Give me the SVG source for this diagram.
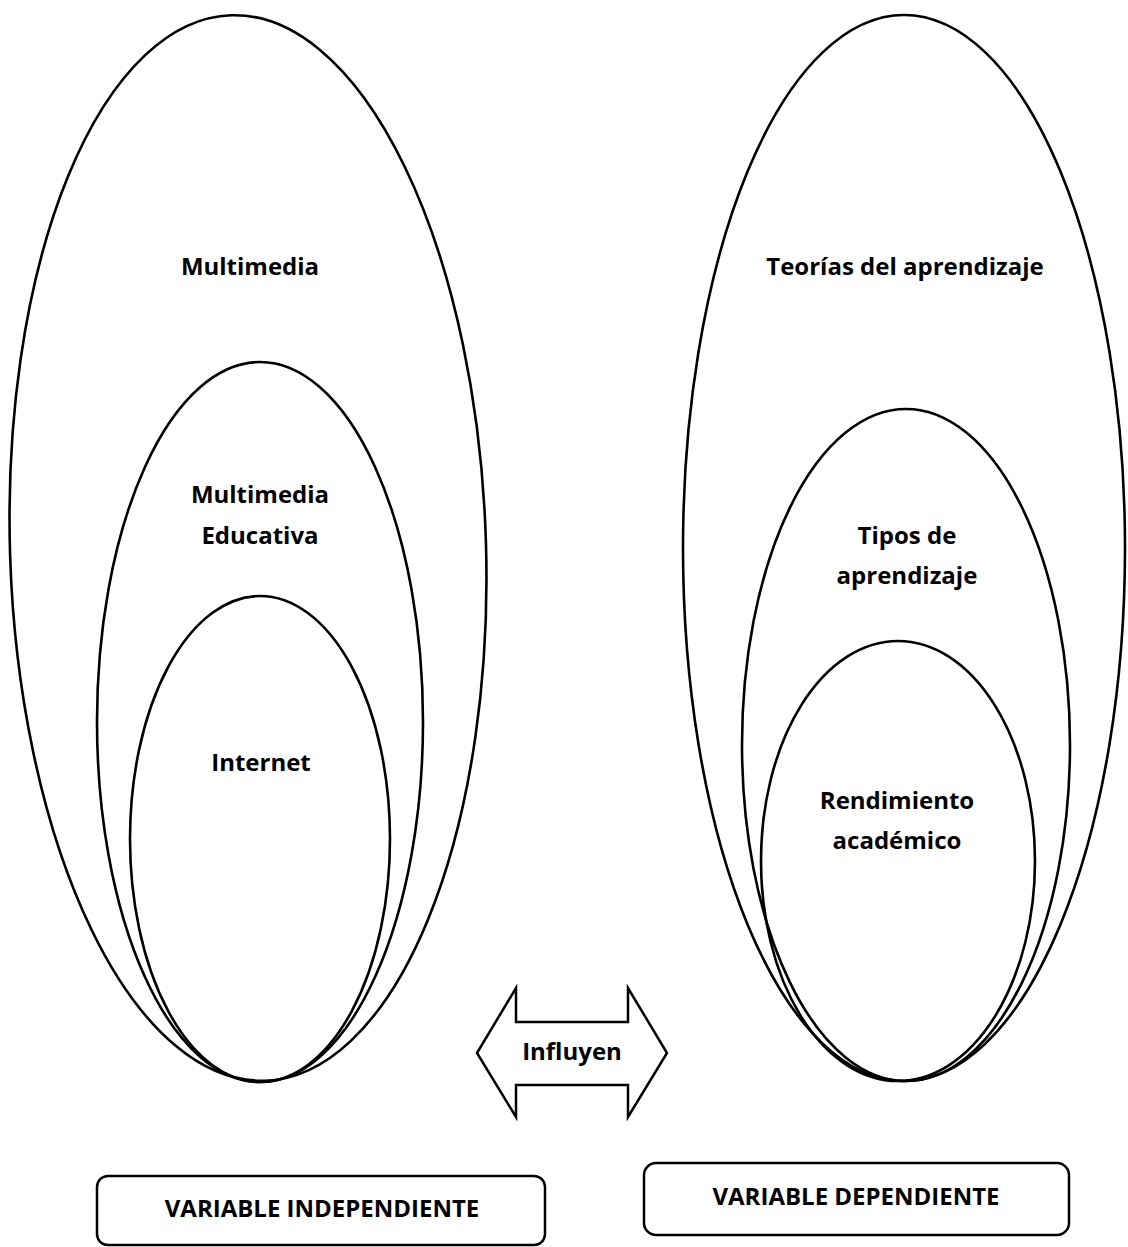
<svg xmlns="http://www.w3.org/2000/svg" width="1128" height="1247" viewBox="0 0 1128 1247">
<style>
.sh{fill:none;stroke:#000;stroke-width:2.6}
.bx{fill:#fff;stroke:#000;stroke-width:2.5}
.t{font-family:"Open Sans","Liberation Sans",sans-serif;font-weight:bold;font-size:24px;fill:#000;text-anchor:middle}
</style>
<rect width="1128" height="1247" fill="#fff"/>
<g id="independent-set">
<g id="multimedia"><ellipse class="sh" cx="248" cy="548" rx="238" ry="533" transform="rotate(-1.8 248 548)"/><text class="t" x="250" y="275">Multimedia</text></g>
<g id="multimedia-educativa"><ellipse class="sh" cx="260" cy="722" rx="163" ry="360"/><text class="t" x="260" y="503">Multimedia</text><text class="t" x="260" y="544">Educativa</text></g>
<g id="internet"><ellipse class="sh" cx="260" cy="839" rx="130" ry="243"/><text class="t" x="261" y="771">Internet</text></g>
</g>
<g id="dependent-set">
<g id="teorias"><ellipse class="sh" cx="904" cy="548" rx="221" ry="533"/><text class="t" x="905" y="275">Teorías del aprendizaje</text></g>
<g id="tipos"><ellipse class="sh" cx="906" cy="745" rx="164" ry="336"/><text class="t" x="907" y="544">Tipos de</text><text class="t" x="907" y="584">aprendizaje</text></g>
<g id="rendimiento"><ellipse class="sh" cx="898" cy="861" rx="137" ry="220"/><text class="t" x="897" y="809">Rendimiento</text><text class="t" x="897" y="849">académico</text></g>
</g>
<g id="connectors">
<g id="influyen"><polygon class="bx" points="477,1053 516,988 516,1022 628,1022 628,988 667,1053 628,1117 628,1085 516,1085 516,1117"/><text class="t" x="572" y="1060">Influyen</text></g>
</g>
<g id="variable-independiente"><rect class="bx" x="97" y="1176" width="448" height="69" rx="11"/><text class="t" x="322" y="1217">VARIABLE INDEPENDIENTE</text></g>
<g id="variable-dependiente"><rect class="bx" x="644" y="1163" width="425" height="72" rx="12"/><text class="t" x="856" y="1205">VARIABLE DEPENDIENTE</text></g>
</svg>
